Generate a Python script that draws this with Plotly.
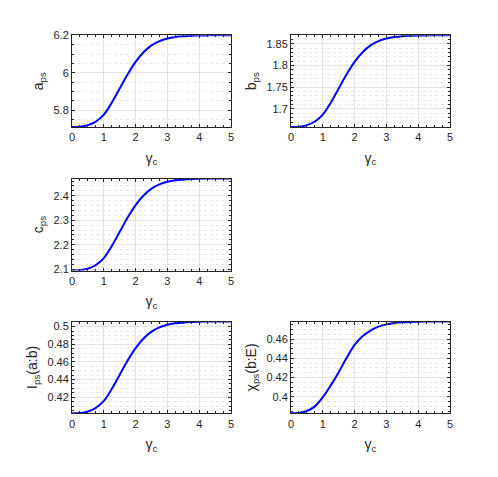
import plotly.graph_objects as go

# gamma_c sample points
gamma_c = [0, 0.25, 0.5, 0.75, 1, 1.25, 1.5, 1.75, 2, 2.25, 2.5, 2.75,
           3, 3.25, 3.5, 3.75, 4, 4.25, 4.5, 4.75, 5]

a_ps = [5.710, 5.711, 5.720, 5.739, 5.776, 5.840, 5.916, 5.992, 6.059, 6.110, 6.147,
        6.170, 6.184, 6.192, 6.196, 6.199, 6.200, 6.2005, 6.201, 6.201, 6.201]

b_ps = [1.6585, 1.6591, 1.6627, 1.6712, 1.6870, 1.7144, 1.7471, 1.7798, 1.8083, 1.8305,
        1.8463, 1.8562, 1.8621, 1.8655, 1.8674, 1.8684, 1.8691, 1.8693, 1.8695, 1.8695, 1.8695]

c_ps = [2.0945, 2.0956, 2.1020, 2.1171, 2.1453, 2.1941, 2.2524, 2.3107, 2.3615, 2.4009,
        2.4291, 2.4468, 2.4573, 2.4634, 2.4667, 2.4686, 2.4697, 2.4701, 2.4705, 2.4705, 2.4705]

I_ps = [0.4018, 0.4021, 0.4039, 0.4080, 0.4158, 0.4294, 0.4455, 0.4616, 0.4756, 0.4866,
        0.4944, 0.4992, 0.5022, 0.5038, 0.5048, 0.5053, 0.5056, 0.5057, 0.5058, 0.5058, 0.5058]

chi_ps = [0.3827, 0.3831, 0.3851, 0.3899, 0.3995, 0.4118, 0.4255, 0.4405, 0.4540, 0.4630,
          0.4690, 0.4730, 0.4754, 0.4768, 0.4776, 0.4780, 0.4782, 0.4783, 0.4784, 0.4784, 0.4784]

y_labels = ["a<sub>ps</sub>", "b<sub>ps</sub>", "c<sub>ps</sub>",
            "I<sub>ps</sub>(a:b)", "χ<sub>ps</sub>(b:E)"]
y_dticks = [0.2, 0.05, 0.1, 0.02, 0.02]
y_minor = [0.05, 0.01, 0.02, 0.005, 0.005]

W, H = 498, 477
OFF = 8  # page body margin of the html page
FONT = "Liberation Sans, Arial, Helvetica, sans-serif"
AXCOL = "#262626"

# pixel boxes (left, right, top, bottom) of each axes, as seen on screen
boxes = [(72, 231, 35.3, 127), (291, 450, 35.3, 127), (72, 231, 178.5, 270.5),
         (72, 231, 321.5, 413.3), (291, 450, 321.5, 413.3)]

series = [a_ps, b_ps, c_ps, I_ps, chi_ps]

fig = go.Figure()
layout = {}

for i, (ys, box) in enumerate(zip(series, boxes)):
    n = i + 1
    xa = "x" if n == 1 else "x%d" % n
    ya = "y" if n == 1 else "y%d" % n
    fig.add_trace(go.Scatter(x=gamma_c, y=ys, mode="lines", xaxis=xa, yaxis=ya,
                             line=dict(color="#0000ff", width=2, shape="spline"),
                             showlegend=False, hoverinfo="skip"))

    common = dict(showline=True, linecolor=AXCOL, linewidth=1, mirror="allticks",
                  ticks="inside", ticklen=3, tickcolor=AXCOL,
                  tickfont=dict(family=FONT, size=11, color=AXCOL),
                  showgrid=True, gridcolor="#e3e3e3", gridwidth=1, zeroline=False,
                  automargin=False)
    l, r, t, b = [v - OFF for v in box]
    layout["xaxis" if n == 1 else "xaxis%d" % n] = dict(
        common, domain=[l / W, r / W], anchor=ya, range=[0, 5], tick0=0, dtick=1,
        title=dict(text="γ<sub>c</sub>", font=dict(family=FONT, size=14, color=AXCOL),
                   standoff=10),
        minor=dict(ticks="inside", ticklen=2, tickcolor=AXCOL, dtick=0.25, showgrid=False))
    layout["yaxis" if n == 1 else "yaxis%d" % n] = dict(
        common, domain=[1 - b / H, 1 - t / H], anchor=xa, range=[min(ys), max(ys)],
        tick0=0, dtick=y_dticks[i],
        title=dict(text=y_labels[i], font=dict(family=FONT, size=14, color=AXCOL),
                   standoff=6),
        minor=dict(ticks="inside", ticklen=2, tickcolor=AXCOL, dtick=y_minor[i],
                   showgrid=True, gridcolor="#e8e8e8", griddash="dot", gridwidth=1))

fig.update_layout(width=W, height=H, margin=dict(l=0, r=0, t=0, b=0),
                  paper_bgcolor="white", plot_bgcolor="white", **layout)

fig.write_html("out.html")
